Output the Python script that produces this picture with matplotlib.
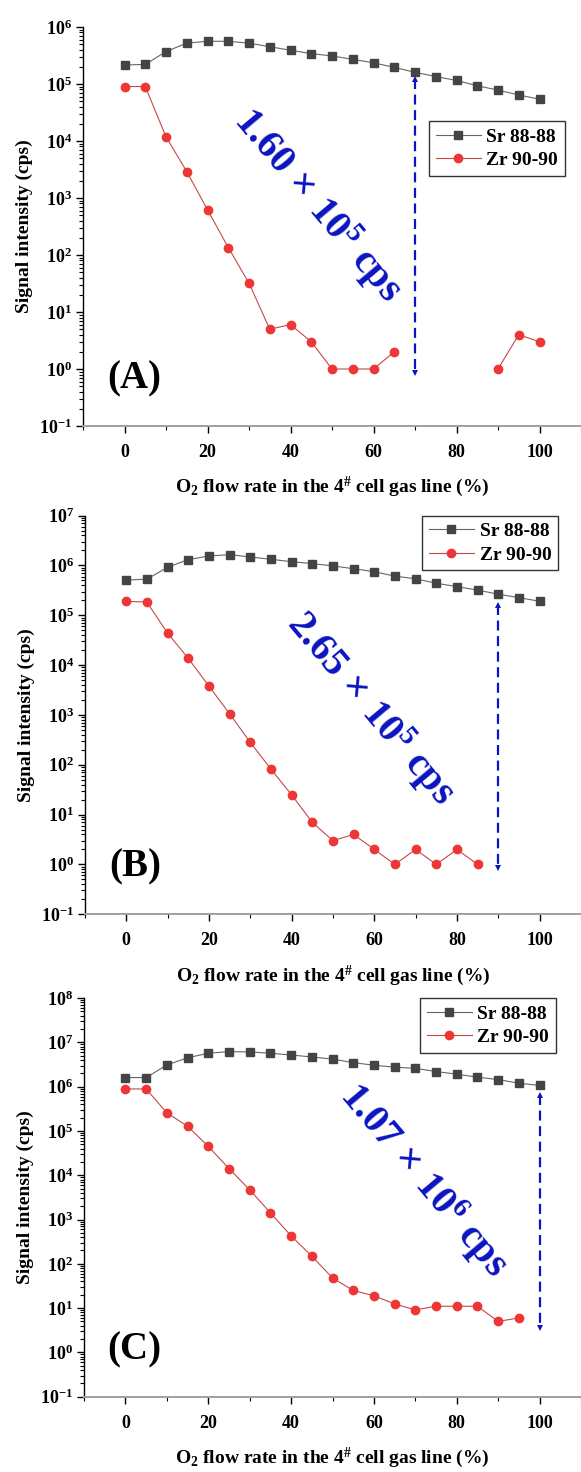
import matplotlib
matplotlib.use("Agg")
import matplotlib.pyplot as plt
from matplotlib.ticker import LogLocator, FuncFormatter, MultipleLocator, NullFormatter
import numpy as np

plt.rcParams["font.family"] = ["Liberation Serif", "DejaVu Serif"]
plt.rcParams["font.weight"] = "bold"
plt.rcParams["mathtext.fontset"] = "custom"
plt.rcParams["mathtext.rm"] = "Liberation Serif:bold"
plt.rcParams["mathtext.it"] = "Liberation Serif:bold:italic"
plt.rcParams["mathtext.bf"] = "Liberation Serif:bold"
plt.rcParams["mathtext.default"] = "rm"

nan = np.nan

# O2 flow rate (%)
flow = [0, 5, 10, 15, 20, 25, 30, 35, 40, 45, 50, 55, 60, 65, 70, 75, 80, 85, 90, 95, 100]

# panel A
sr_a = [2.15e5, 2.2e5, 3.7e5, 5.2e5, 5.6e5, 5.6e5, 5.2e5, 4.5e5, 3.9e5, 3.4e5, 3.1e5,
        2.7e5, 2.35e5, 1.95e5, 1.6e5, 1.35e5, 1.15e5, 9.3e4, 7.8e4, 6.4e4, 5.4e4]
zr_a = [9.0e4, 9.0e4, 1.18e4, 2.9e3, 620, 135, 32, 5, 6, 3, 1,
        1, 1, 2, nan, nan, nan, nan, 1, 4, 3]

# panel B
sr_b = [5.1e5, 5.3e5, 9.2e5, 1.31e6, 1.55e6, 1.65e6, 1.48e6, 1.33e6, 1.19e6, 1.09e6, 9.8e5,
        8.6e5, 7.5e5, 6.1e5, 5.4e5, 4.4e5, 3.76e5, 3.2e5, 2.65e5, 2.26e5, 1.91e5]
zr_b = [1.9e5, 1.85e5, 4.4e4, 1.37e4, 3.8e3, 1.06e3, 283, 82, 25, 7, 3,
        4, 2, 1, 2, 1, 2, 1, nan, nan, nan]

# panel C
sr_c = [1.61e6, 1.61e6, 3.1e6, 4.5e6, 5.7e6, 6.2e6, 6.1e6, 5.7e6, 5.2e6, 4.7e6, 4.2e6,
        3.5e6, 3.06e6, 2.76e6, 2.6e6, 2.2e6, 1.92e6, 1.64e6, 1.45e6, 1.2e6, 1.07e6]
zr_c = [8.9e5, 8.9e5, 2.57e5, 1.28e5, 4.5e4, 1.42e4, 4.7e3, 1.42e3, 428, 149, 48,
        25, 19, 12.4, 9.1, 11, 11, 11, 5.0, 6.0, nan]

panel_tags = ["(A)", "(B)", "(C)"]
gap_texts = [r"1.60$\,\times\,$10$^{5}$ cps", r"2.65$\,\times\,$10$^{5}$ cps",
             r"1.07$\,\times\,$10$^{6}$ cps"]
y_tops = [1e6, 1e7, 1e8]

BLUE = "#0a14c0"


def log_label(v, pos):
    e = int(round(np.log10(v)))
    return r"$10^{%d}$" % e


def draw_panel(ax, sr, zr, ytop, tag, gap_text, arrow_x, arrow_y, text_xy, leg_anchor):
    ax.plot(flow, sr, color="#666666", lw=0.8, marker="s", ms=6,
            mfc="#444444", mec="#444444", label="Sr 88-88")
    ax.plot(flow, zr, color="#c84848", lw=0.8, marker="o", ms=6,
            mfc="#ee3636", mec="#ee3636", label="Zr 90-90")

    ax.set_yscale("log")
    ax.set_ylim(1e-1, ytop)
    ax.set_xlim(-10, 110)

    ax.xaxis.set_major_locator(MultipleLocator(20))
    ax.xaxis.set_minor_locator(MultipleLocator(10))
    ax.yaxis.set_major_locator(LogLocator(base=10, numticks=20))
    ax.yaxis.set_minor_locator(LogLocator(base=10, subs=np.arange(2, 10), numticks=20))
    ax.yaxis.set_major_formatter(FuncFormatter(log_label))
    ax.yaxis.set_minor_formatter(NullFormatter())

    ax.tick_params(axis="both", which="major", direction="out", length=5, width=1,
                   labelsize=13, color="black")
    ax.tick_params(axis="both", which="minor", direction="out", length=3, width=0.8,
                   color="black")
    ax.tick_params(axis="x", which="major", pad=8)
    ax.tick_params(axis="y", which="major", pad=3)
    for lab in ax.get_xticklabels() + ax.get_yticklabels():
        lab.set_fontweight("bold")

    ax.spines["top"].set_visible(False)
    ax.spines["right"].set_visible(False)
    ax.spines["left"].set_color("black")
    ax.spines["left"].set_linewidth(1.0)
    ax.spines["bottom"].set_color("#a0a0a0")
    ax.spines["bottom"].set_linewidth(1.4)

    ax.set_ylabel("Signal intensity (cps)", fontsize=14, fontweight="bold", labelpad=4)
    ax.set_xlabel(r"O$_2$ flow rate in the 4$^{\#}$ cell gas line (%)",
                  fontsize=14, fontweight="bold", labelpad=10)

    # dashed double arrow marking the Sr signal left after Zr removal
    ax.plot([arrow_x, arrow_x], arrow_y, color=BLUE, lw=1.6, ls=(0, (4.5, 2.5)))
    ax.plot(arrow_x, arrow_y[0], marker="^", color=BLUE, ms=5, mew=0)
    ax.plot(arrow_x, arrow_y[1], marker="v", color=BLUE, ms=5, mew=0)

    ax.text(text_xy[0], text_xy[1], gap_text, color=BLUE, fontsize=29, fontweight="bold",
            rotation=-50, ha="center", va="center", rotation_mode="anchor")

    ax.text(0.102, 0.118, tag, transform=ax.transAxes, fontsize=28, fontweight="bold",
            ha="center", va="center")

    leg = ax.legend(loc="upper left", bbox_to_anchor=leg_anchor, fontsize=14, frameon=True,
                    fancybox=False, edgecolor="black", handlelength=2.3, handletextpad=0.3,
                    labelspacing=0.3, borderpad=0.35, borderaxespad=0)
    leg.get_frame().set_linewidth(1.0)
    for t in leg.get_texts():
        t.set_fontweight("bold")


fig = plt.figure(figsize=(5.81, 14.72), dpi=100)
ax_a = fig.add_axes([0.1429, 0.7106, 0.8571, 0.2711])
ax_b = fig.add_axes([0.1460, 0.3789, 0.8540, 0.2708])
ax_c = fig.add_axes([0.1446, 0.0512, 0.8554, 0.2707])

draw_panel(ax_a, sr_a, zr_a, y_tops[0], panel_tags[0], gap_texts[0],
           70, [1.2e5, 0.85], (46.5, 10 ** 2.88), (0.695, 0.764))
draw_panel(ax_b, sr_b, zr_b, y_tops[1], panel_tags[1], gap_texts[1],
           90, [1.6e5, 0.85], (59.2, 10 ** 3.14), (0.680, 1.0))
draw_panel(ax_c, sr_c, zr_c, y_tops[2], panel_tags[2], gap_texts[2],
           100, [6.5e5, 3.5], (72.0, 10 ** 3.89), (0.676, 1.0))

fig.savefig("out.png", dpi=100)
